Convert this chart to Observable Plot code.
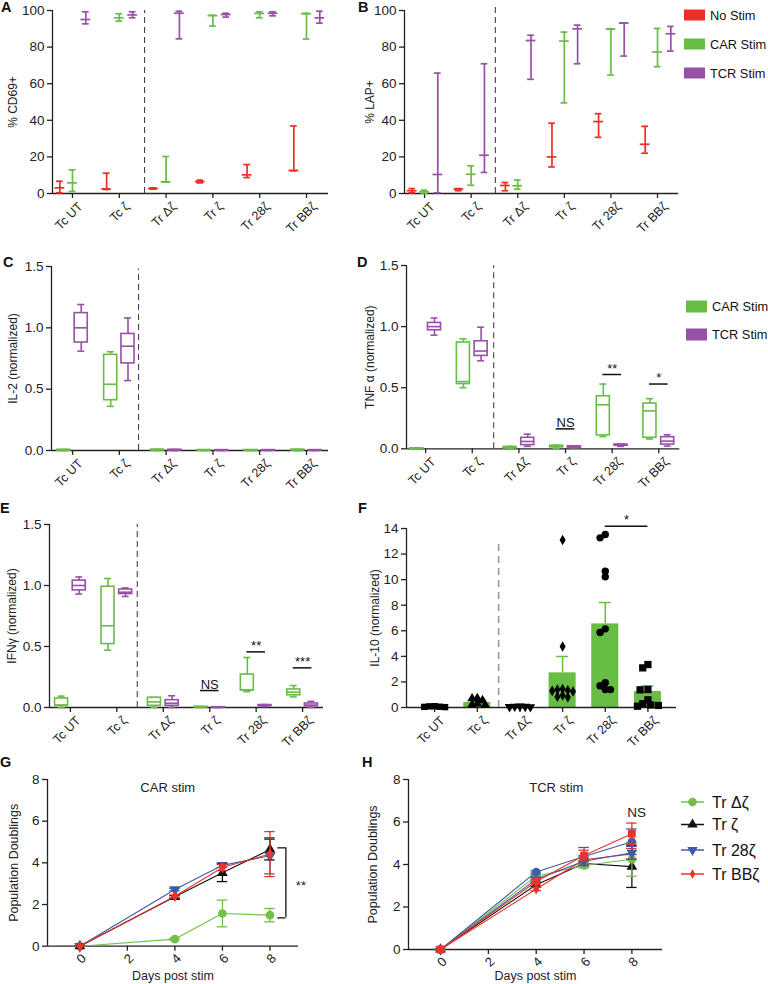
<!DOCTYPE html>
<html>
<head>
<meta charset="utf-8">
<script src="https://cdn.jsdelivr.net/npm/d3@7"></script>
<script src="https://cdn.jsdelivr.net/npm/@observablehq/plot@0.6"></script>
<style>
html,body{margin:0;padding:0;background:#fff;}
#fig{position:relative;width:768px;height:984px;overflow:hidden;background:#fff;}
</style>
</head>
<body>
<div id="fig"></div>
<script>
// ---------------- DATA ----------------
const categories = ["Tc UT", "Tc ζ", "Tr Δζ", "Tr ζ", "Tr 28ζ", "Tr BBζ"];
const stimNames = ["No Stim", "CAR Stim", "TCR Stim"];
const stimColors = ["#ec2f26", "#68bd45", "#9651a7"];

// A: % CD69+ (min / mean / max)
const cd69NoMin   = [0.4, 2.2, 2.4, 5.8, 8.7, 12.4];
const cd69NoMean  = [3.1, 2.5, 2.7, 6.5, 10.2, 12.6];
const cd69NoMax   = [6.7, 11.1, 3.1, 7.3, 15.8, 36.9];
const cd69CarMin  = [1.1, 94.2, 6.2, 91.5, 96.0, 84.4];
const cd69CarMean = [5.8, 96.0, 6.4, 97.2, 98.4, 98.2];
const cd69CarMax  = [12.9, 98.2, 20.2, 97.4, 99.3, 98.5];
const cd69TcrMin  = [92.7, 96.0, 84.5, 96.4, 97.1, 93.1];
const cd69TcrMean = [95.1, 97.6, 98.5, 97.8, 98.5, 96.0];
const cd69TcrMax  = [99.3, 99.3, 99.6, 98.5, 99.3, 99.6];

// B: % LAP+ (min / mean / max)
const lapNoMin   = [0.4, 1.5, 1.5, 14.5, 30.7, 22.0];
const lapNoMean  = [1.5, 2.4, 4.4, 20.0, 39.3, 26.9];
const lapNoMax   = [2.7, 2.7, 6.0, 38.4, 43.6, 36.7];
const lapCarMin  = [0.0, 4.5, 2.4, 49.5, 64.7, 69.3];
const lapCarMean = [0.9, 10.5, 4.2, 83.3, 89.8, 77.3];
const lapCarMax  = [1.8, 15.1, 7.3, 88.2, 90.0, 90.2];
const lapTcrMin  = [0.4, 11.5, 62.4, 70.9, 75.1, 77.8];
const lapTcrMean = [10.4, 20.9, 83.6, 90.0, 93.1, 87.3];
const lapTcrMax  = [65.8, 70.9, 86.5, 92.0, 93.1, 91.3];

// C: IL-2 (normalized) boxes [min, q1, median, q3, max]
const il2Car = [[0,0,0.003,0.006,0.008],[0.36,0.41,0.54,0.78,0.805],[0,0.002,0.004,0.007,0.009],[0,0,0.002,0.004,0.005],[0,0,0.002,0.004,0.005],[0,0.002,0.004,0.007,0.009]];
const il2Tcr = [[0.81,0.88,1.0,1.12,1.19],[0.57,0.71,0.85,0.95,1.08],[0,0.002,0.004,0.006,0.008],[0,0,0.002,0.003,0.004],[0,0,0.002,0.003,0.004],[0,0,0.002,0.003,0.004]];

// D: TNFα (normalized)
const tnfCar = [[0,0,0.002,0.004,0.005],[0.5,0.53,0.55,0.87,0.9],[0,0.005,0.01,0.015,0.02],[0.005,0.012,0.02,0.025,0.028],[0.1,0.11,0.36,0.43,0.53],[0.08,0.09,0.31,0.37,0.41]];
const tnfTcr = [[0.93,0.97,1.0,1.03,1.07],[0.72,0.76,0.80,0.88,0.995],[0.02,0.03,0.06,0.09,0.12],[0.005,0.01,0.015,0.02,0.022],[0.02,0.025,0.03,0.035,0.038],[0.022,0.035,0.063,0.095,0.115]];
const tnfSigCats = [3, 4, 5];
const tnfSigLabels = ["NS", "**", "*"];
const tnfSigHeights = [0.163, 0.608, 0.53];

// E: IFNγ (normalized)
const ifnCar = [[0,0.014,0.02,0.074,0.093],[0.47,0.52,0.67,0.99,1.057],[0,0.014,0.046,0.08,0.082],[0,0.002,0.004,0.006,0.008],[0.13,0.14,0.145,0.27,0.41],[0.087,0.1,0.126,0.148,0.18]];
const ifnTcr = [[0.93,0.96,1.0,1.04,1.07],[0.91,0.93,0.945,0.967,0.98],[0,0.014,0.035,0.06,0.096],[0,0,0.001,0.002,0.003],[0.008,0.012,0.016,0.02,0.024],[0,0.01,0.02,0.033,0.05]];
const ifnSigCats = [3, 4, 5];
const ifnSigLabels = ["NS", "**", "***"];
const ifnSigHeights = [0.139, 0.456, 0.325];

// F: IL-10 (normalized), CAR stim: mean, SEM and individual donors
const il10Mean = [0.06, 0.39, 0.06, 2.71, 6.54, 1.25];
const il10Sem  = [0.02, 0.10, 0.02, 1.28, 1.67, 0.44];
const il10TcUT   = [0.03, 0.06, 0.09, 0.05, 0.1];
const il10TcZ    = [0.72, 0.7, 0.55, 0.3, 0.22, 0.2];
const il10TrDZ   = [0.1, 0.07, 0.05, 0.04, 0.08];
const il10TrZ    = [13.1, 4.77, 1.45, 1.4, 1.3, 1.25, 0.85, 0.95, 1.35, 0.8];
const il10Tr28Z  = [13.53, 13.27, 10.22, 10.66, 6.15, 5.87, 1.93, 1.7, 1.41, 1.4];
const il10TrBBZ  = [3.1, 3.36, 1.41, 1.38, 0.6, 0.16, 0.2, 0.1, 0.3];
const il10SigFrom = 4, il10SigTo = 5, il10SigHeight = 14.17, il10SigLabel = "*";

// G / H: population doublings
const days = [0, 4, 6, 8];
const growthNames = ["Tr Δζ", "Tr ζ", "Tr 28ζ", "Tr BBζ"];
const growthColors = ["#70c04a", "#111111", "#3d5ca9", "#e8352b"];
const carDZ = [0, 0.34, 1.57, 1.49],  carDZErr = [0, 0.05, 0.64, 0.32];
const carZ  = [0, 2.37, 3.52, 4.64],  carZErr  = [0, 0.06, 0.42, 0.5];
const car28 = [0, 2.72, 3.88, 4.34],  car28Err = [0, 0.06, 0.1, 0.87];
const carBB = [0, 2.4, 3.78, 4.42],   carBBErr = [0, 0.06, 0.15, 1.08];
const tcrDZ = [0, 3.45, 3.95, 4.25],  tcrDZErr = [0, 0.08, 0.12, 0.8];
const tcrZ  = [0, 3.05, 4.05, 3.9],   tcrZErr  = [0, 0.08, 0.1, 0.98];
const tcr28 = [0, 3.3, 4.15, 4.55],   tcr28Err = [0, 0.08, 0.2, 0.3];
const tcrBB = [0, 2.85, 4.22, 4.5],   tcrBBErr = [0, 0.08, 0.2, 0.25];
const tcrBBsq = [0, 3.2, 4.42, 5.45], tcrBBsqErr = [0, 0.1, 0.25, 0.5];
const tcr28ci = [0, 3.65, 4.38, 5.07], tcr28ciErr = [0, 0.05, 0.42, 0.6];

// ---------------- DRAWING ----------------
const FONT = '"Liberation Sans", Arial, Helvetica, sans-serif';
const AX = "#222";
const figEl = document.getElementById("fig");

function addPlot(frame, opts) {
  const ml = 70, mr = 30, mt = 30, mb = 80;
  const svg = Plot.plot({
    width: frame.x1 - frame.x0 + ml + mr,
    height: frame.y1 - frame.y0 + mt + mb,
    marginLeft: ml, marginRight: mr, marginTop: mt, marginBottom: mb,
    style: {overflow: "visible", fontFamily: FONT, color: AX, background: "none"},
    ...opts
  });
  svg.style.position = "absolute";
  svg.style.left = (frame.x0 - ml) + "px";
  svg.style.top = (frame.y0 - mt) + "px";
  svg.style.maxWidth = "none";
  figEl.appendChild(svg);
}

function yLabel(text, off, size) {
  return Plot.text([text], {text: d => d, frameAnchor: "left", textAnchor: "middle", lineAnchor: "middle", rotate: -90, dx: -off, fontSize: size || 12});
}

function catFrame({xlo, yticks, yfmt, ylabel, ylabOff, dashAt, dashTop, dashStroke, dashWidth, dashArray}) {
  return [
    Plot.ruleY([0], {stroke: AX, strokeWidth: 1.3}),
    Plot.ruleX([xlo], {stroke: AX, strokeWidth: 1.3}),
    Plot.axisY({ticks: yticks, tickFormat: yfmt, tickSize: 5, tickPadding: 3, fontSize: 13.5, strokeWidth: 1.3, label: null}),
    Plot.axisX({ticks: d3.range(categories.length), tickFormat: () => "", tickSize: 5, strokeWidth: 1.3, label: null}),
    Plot.axisX({ticks: d3.range(categories.length), tickFormat: i => categories[i], tickSize: 0, tickPadding: 11, tickRotate: -45, fontSize: 12.5, dx: 8, label: null}),
    Plot.ruleX([dashAt], {y1: 0, y2: dashTop, stroke: dashStroke || "#444", strokeWidth: dashWidth || 1.1, strokeDasharray: dashArray || "6,4"}),
    yLabel(ylabel, ylabOff)
  ];
}

function rangeMarks(mins, means, maxs, offset, color) {
  const rows = categories.map((c, i) => ({x: i + offset, min: mins[i], mean: means[i], max: maxs[i]}));
  const cap = 0.072, mh = 0.105, sw = 1.7;
  return [
    Plot.ruleX(rows, {x: "x", y1: "min", y2: "max", stroke: color, strokeWidth: sw}),
    Plot.ruleY(rows, {y: "min", x1: d => d.x - cap, x2: d => d.x + cap, stroke: color, strokeWidth: sw}),
    Plot.ruleY(rows, {y: "max", x1: d => d.x - cap, x2: d => d.x + cap, stroke: color, strokeWidth: sw}),
    Plot.ruleY(rows, {y: "mean", x1: d => d.x - mh, x2: d => d.x + mh, stroke: color, strokeWidth: sw})
  ];
}

function boxMarks(stats, offset, color) {
  const rows = stats.map((s, i) => ({x: i + offset, min: s[0], q1: s[1], med: s[2], q3: s[3], max: s[4]}));
  const hw = 0.14, cap = 0.075, sw = 1.6;
  return [
    Plot.ruleX(rows, {x: "x", y1: "min", y2: "q1", stroke: color, strokeWidth: sw}),
    Plot.ruleX(rows, {x: "x", y1: "q3", y2: "max", stroke: color, strokeWidth: sw}),
    Plot.ruleY(rows, {y: "min", x1: d => d.x - cap, x2: d => d.x + cap, stroke: color, strokeWidth: sw}),
    Plot.ruleY(rows, {y: "max", x1: d => d.x - cap, x2: d => d.x + cap, stroke: color, strokeWidth: sw}),
    Plot.rect(rows, {x1: d => d.x - hw, x2: d => d.x + hw, y1: "q1", y2: "q3", fill: "white", stroke: color, strokeWidth: sw}),
    Plot.ruleY(rows, {y: "med", x1: d => d.x - hw, x2: d => d.x + hw, stroke: color, strokeWidth: sw})
  ];
}

function sigMarks(cats, labels, heights, half) {
  const rows = cats.map((c, k) => ({x: c, label: labels[k], y: heights[k]}));
  return [
    Plot.ruleY(rows, {y: "y", x1: d => d.x - half, x2: d => d.x + half, stroke: "#111", strokeWidth: 1.5}),
    Plot.text(rows, {x: "x", y: "y", text: "label", lineAnchor: "bottom", dy: -2, fontSize: 13, fill: "#111"})
  ];
}

// ---- Panel A ----
addPlot({x0: 52, x1: 328, y0: 10, y1: 193}, {
  x: {type: "linear", domain: [-0.427, 5.47]},
  y: {domain: [0, 100]},
  marks: [
    ...catFrame({xlo: -0.427, yticks: [0, 20, 40, 60, 80, 100], yfmt: d3.format("d"), ylabel: "% CD69+", ylabOff: 39, dashAt: 1.54, dashTop: 100}),
    ...rangeMarks(cd69NoMin, cd69NoMean, cd69NoMax, -0.27, stimColors[0]),
    ...rangeMarks(cd69CarMin, cd69CarMean, cd69CarMax, 0, stimColors[1]),
    ...rangeMarks(cd69TcrMin, cd69TcrMean, cd69TcrMax, 0.285, stimColors[2])
  ]
});

// ---- Panel B ----
addPlot({x0: 404, x1: 678, y0: 10, y1: 193}, {
  x: {type: "linear", domain: [-0.43, 5.45]},
  y: {domain: [0, 100]},
  marks: [
    ...catFrame({xlo: -0.43, yticks: [0, 20, 40, 60, 80, 100], yfmt: d3.format("d"), ylabel: "% LAP+", ylabOff: 34, dashAt: 1.52, dashTop: 103}),
    ...rangeMarks(lapNoMin, lapNoMean, lapNoMax, -0.265, stimColors[0]),
    ...rangeMarks(lapCarMin, lapCarMean, lapCarMax, 0, stimColors[1]),
    ...rangeMarks(lapTcrMin, lapTcrMean, lapTcrMax, 0.285, stimColors[2])
  ]
});

// ---- Panel C ----
addPlot({x0: 51, x1: 328, y0: 266, y1: 450}, {
  x: {type: "linear", domain: [-0.45, 5.47]},
  y: {domain: [0, 1.5]},
  marks: [
    ...catFrame({xlo: -0.45, yticks: [0, 0.5, 1.0, 1.5], yfmt: d3.format(".1f"), ylabel: "IL-2 (normalized)", ylabOff: 38, dashAt: 1.41, dashTop: 1.48}),
    ...boxMarks(il2Car, -0.185, stimColors[1]),
    ...boxMarks(il2Tcr, 0.185, stimColors[2])
  ]
});

// ---- Panel D ----
addPlot({x0: 405.7, x1: 679, y0: 265, y1: 448.3}, {
  x: {type: "linear", domain: [-0.41, 5.45]},
  y: {domain: [0, 1.5]},
  marks: [
    ...catFrame({xlo: -0.41, yticks: [0, 0.5, 1.0, 1.5], yfmt: d3.format(".1f"), ylabel: "TNF α (normalized)", ylabOff: 36, dashAt: 1.46, dashTop: 1.5}),
    ...boxMarks(tnfCar, -0.19, stimColors[1]),
    ...boxMarks(tnfTcr, 0.19, stimColors[2]),
    ...sigMarks(tnfSigCats, tnfSigLabels, tnfSigHeights, 0.2)
  ]
});

// ---- Panel E ----
addPlot({x0: 49, x1: 323, y0: 524, y1: 707}, {
  x: {type: "linear", domain: [-0.45, 5.45]},
  y: {domain: [0, 1.5]},
  marks: [
    ...catFrame({xlo: -0.45, yticks: [0, 0.5, 1.0, 1.5], yfmt: d3.format(".1f"), ylabel: "IFNγ (normalized)", ylabOff: 37, dashAt: 1.44, dashTop: 1.5}),
    ...boxMarks(ifnCar, -0.19, stimColors[1]),
    ...boxMarks(ifnTcr, 0.19, stimColors[2]),
    ...sigMarks(ifnSigCats, ifnSigLabels, ifnSigHeights, 0.2)
  ]
});

// ---- Panel F ----
(function () {
  const frame = {x0: 405.7, x1: 675.7, y0: 528, y1: 707};
  const xdom = [-0.66, 5.67], ydom = [0, 14];
  const pxPerX = (frame.x1 - frame.x0) / (xdom[1] - xdom[0]);
  const pxPerY = (frame.y1 - frame.y0) / (ydom[1] - ydom[0]);
  const groups = [il10TcUT, il10TcZ, il10TrDZ, il10TrZ, il10Tr28Z, il10TrBBZ];
  const symbols = ["square", "triangle", "triangle", "diamond", "circle", "square"];
  const rotations = [0, 0, 180, 0, 0, 0];
  const radii = [3.6, 3.6, 3.6, 3.2, 3.7, 4.1];
  // non-overlapping horizontal spread (beeswarm-like)
  function spread(values, diam, step) {
    const order = d3.range(values.length).sort((a, b) => values[b] - values[a]);
    const cands = [0]; for (let k = 1; k < 12; k++) cands.push(-k * step, k * step);
    const placed = [], offs = [];
    for (const i of order) {
      const y = values[i] * pxPerY;
      for (const c of cands) {
        if (placed.every(p => Math.hypot(p.x - c, p.y - y) >= diam)) { offs[i] = c; placed.push({x: c, y}); break; }
      }
    }
    return offs;
  }
  const dotMarks = groups.map((vals, g) => {
    const offs = spread(vals, radii[g] * 1.35, 2.6);
    const rows = vals.map((v, k) => ({x: g + offs[k] / pxPerX, y: v}));
    return Plot.dot(rows, {x: "x", y: "y", symbol: symbols[g], rotate: rotations[g], r: radii[g], fill: "#000", stroke: "none"});
  });
  const bars = il10Mean.map((m, i) => ({i, mean: m, top: m + il10Sem[i]}));
  addPlot(frame, {
    x: {type: "linear", domain: xdom},
    y: {domain: ydom},
    marks: [
      Plot.rectY(bars, {x1: d => d.i - 0.317, x2: d => d.i + 0.317, y: "mean", fill: stimColors[1]}),
      Plot.ruleX(bars, {x: "i", y1: "mean", y2: "top", stroke: stimColors[1], strokeWidth: 1.5}),
      Plot.ruleY(bars, {y: "top", x1: d => d.i - 0.14, x2: d => d.i + 0.14, stroke: stimColors[1], strokeWidth: 1.5}),
      ...catFrame({xlo: xdom[0], yticks: d3.range(0, 15, 2), yfmt: d3.format("d"), ylabel: "IL-10 (normalized)", ylabOff: 31, dashAt: 1.5, dashTop: 13.05, dashStroke: "#999", dashWidth: 1.6, dashArray: "7,5"}),
      ...dotMarks,
      Plot.ruleY([il10SigHeight], {x1: il10SigFrom, x2: il10SigTo, stroke: "#111", strokeWidth: 1.5}),
      Plot.text([il10SigLabel], {text: d => d, x: (il10SigFrom + il10SigTo) / 2, y: il10SigHeight, lineAnchor: "bottom", dy: -2, fontSize: 13, fill: "#111"})
    ]
  });
})();

// ---- Panels G & H ----
function growthMarks(series) {
  const marks = [];
  for (const s of series) {
    const rows = days.map((d, k) => ({d, v: s.v[k], lo: s.v[k] - s.e[k], hi: s.v[k] + s.e[k]}));
    marks.push(
      Plot.line(rows, {x: "d", y: "v", stroke: s.color, strokeWidth: 1.1}),
      Plot.ruleX(rows, {x: "d", y1: "lo", y2: "hi", stroke: s.color, strokeWidth: 1.3}),
      Plot.ruleY(rows, {y: "lo", x1: d => d.d - 0.22, x2: d => d.d + 0.22, stroke: s.color, strokeWidth: 1.3}),
      Plot.ruleY(rows, {y: "hi", x1: d => d.d - 0.22, x2: d => d.d + 0.22, stroke: s.color, strokeWidth: 1.3}),
      Plot.dot(rows, {x: "d", y: "v", symbol: s.symbol, rotate: s.rot, r: s.r, fill: s.color, stroke: "none"})
    );
  }
  return marks;
}
function growthFrame(xlo, ylabOff, xlabDy) {
  return [
    Plot.ruleY([0], {stroke: AX, strokeWidth: 1.3}),
    Plot.ruleX([xlo], {stroke: AX, strokeWidth: 1.3}),
    Plot.axisY({ticks: [0, 2, 4, 6, 8], tickSize: 5, tickPadding: 3, fontSize: 13.5, strokeWidth: 1.3, label: null}),
    Plot.axisX({ticks: [0, 2, 4, 6, 8], tickFormat: () => "", tickSize: 5, strokeWidth: 1.3, label: null}),
    Plot.axisX({ticks: [0, 2, 4, 6, 8], tickSize: 0, tickPadding: 10, tickRotate: -45, fontSize: 13, dx: 4, label: null}),
    yLabel("Population Doublings", ylabOff, 12.5),
    Plot.text(["Days post stim"], {text: d => d, frameAnchor: "bottom", lineAnchor: "middle", dy: xlabDy, fontSize: 12.5})
  ];
}

const carSeries = [
  {v: carDZ, e: carDZErr, color: growthColors[0], symbol: "circle", rot: 0, r: 4.3},
  {v: car28, e: car28Err, color: growthColors[2], symbol: "triangle", rot: 180, r: 4.2},
  {v: carZ,  e: carZErr,  color: growthColors[1], symbol: "triangle", rot: 0, r: 4},
  {v: carBB, e: carBBErr, color: growthColors[3], symbol: "diamond", rot: 0, r: 3.6}
];
const car8 = [carDZ[3], carZ[3], car28[3], carBB[3]];
addPlot({x0: 46.7, x1: 297.7, y0: 779.3, y1: 946}, {
  x: {type: "linear", domain: [-1.36, 9.2]},
  y: {domain: [0, 8]},
  marks: [
    ...growthFrame(-1.36, 34, 30),
    ...growthMarks(carSeries),
    Plot.text(["CAR stim"], {text: d => d, x: 3.7, y: 7.6, fontSize: 13}),
    Plot.ruleX([8.67], {y1: d3.min(car8) - 0.13, y2: d3.max(car8) + 0.08, stroke: "#111", strokeWidth: 1.3}),
    Plot.ruleY([d3.min(car8) - 0.13, d3.max(car8) + 0.08], {x1: 8.33, x2: 8.67, stroke: "#111", strokeWidth: 1.3}),
    Plot.text(["**"], {text: d => d, x: 9.3, y: (carDZ[3] + carZ[3]) / 2, fontSize: 13, dy: 4})
  ]
});

const tcrSeries = [
  {v: tcrZ,    e: tcrZErr,    color: growthColors[1], symbol: "triangle", rot: 0, r: 4},
  {v: tcrDZ,   e: tcrDZErr,   color: growthColors[0], symbol: "circle", rot: 0, r: 4.3},
  {v: tcrBB,   e: tcrBBErr,   color: growthColors[3], symbol: "diamond", rot: 0, r: 3.4},
  {v: tcr28,   e: tcr28Err,   color: growthColors[2], symbol: "triangle", rot: 180, r: 4},
  {v: tcr28ci, e: tcr28ciErr, color: growthColors[2], symbol: "circle", rot: 0, r: 4.2},
  {v: tcrBBsq, e: tcrBBsqErr, color: growthColors[3], symbol: "square", rot: 0, r: 4.4}
];
addPlot({x0: 408, x1: 662, y0: 779.3, y1: 949.3}, {
  x: {type: "linear", domain: [-1.34, 9.28]},
  y: {domain: [0, 8]},
  marks: [
    ...growthFrame(-1.34, 36, 26.5),
    ...growthMarks(tcrSeries),
    Plot.text(["TCR stim"], {text: d => d, x: 4.84, y: 7.6, fontSize: 13}),
    Plot.text(["NS"], {text: d => d, x: 8.2, y: 6.43, fontSize: 13.5})
  ]
});

// ---------------- OVERLAY: panel letters and legends ----------------
const ov = d3.select("#fig").append("svg")
  .attr("width", 768).attr("height", 984)
  .style("position", "absolute").style("left", "0px").style("top", "0px")
  .style("font-family", FONT).style("overflow", "visible");

const letters = ["A", "B", "C", "D", "E", "F", "G", "H"];
const letterPos = [[1, 12], [358, 12], [3, 267], [357, 267], [0, 513], [358, 513], [0, 767], [362, 767]];
ov.selectAll("text.letter").data(letters).join("text")
  .attr("x", (d, i) => letterPos[i][0]).attr("y", (d, i) => letterPos[i][1])
  .attr("font-size", 14.5).attr("font-weight", "bold").attr("fill", "#111").text(d => d);

// A/B legend
const legAB = ov.append("g");
stimNames.forEach((name, i) => {
  const cy = 15 + i * 29;
  legAB.append("rect").attr("x", 684).attr("y", cy - 5.5).attr("width", 21).attr("height", 11).attr("fill", stimColors[i]);
  legAB.append("text").attr("x", 710).attr("y", cy + 4.5).attr("font-size", 12.8).attr("fill", "#111").text(name);
});
// D legend
[1, 2].forEach((k, j) => {
  const cy = 306.5 + j * 28;
  ov.append("rect").attr("x", 686).attr("y", cy - 6).attr("width", 21).attr("height", 12).attr("fill", stimColors[k]);
  ov.append("text").attr("x", 712).attr("y", cy + 4.5).attr("font-size", 12.8).attr("fill", "#111").text(stimNames[k]);
});
// H legend
const legSym = [d3.symbolCircle, d3.symbolTriangle, d3.symbolTriangle, d3.symbolDiamond];
const legRot = [0, 0, 180, 0];
const legSize = [58, 48, 48, 26];
const legY = [802, 824.5, 850, 874];
growthNames.forEach((name, i) => {
  const cy = legY[i];
  ov.append("line").attr("x1", 681).attr("x2", 704).attr("y1", cy).attr("y2", cy).attr("stroke", growthColors[i]).attr("stroke-width", 1.5);
  ov.append("path").attr("d", d3.symbol(legSym[i], legSize[i])()).attr("transform", `translate(692.5,${cy}) rotate(${legRot[i]})`).attr("fill", growthColors[i]);
  ov.append("text").attr("x", 712).attr("y", cy + 5.5).attr("font-size", 16).attr("fill", "#111").text(name);
});
</script>
</body>
</html>
